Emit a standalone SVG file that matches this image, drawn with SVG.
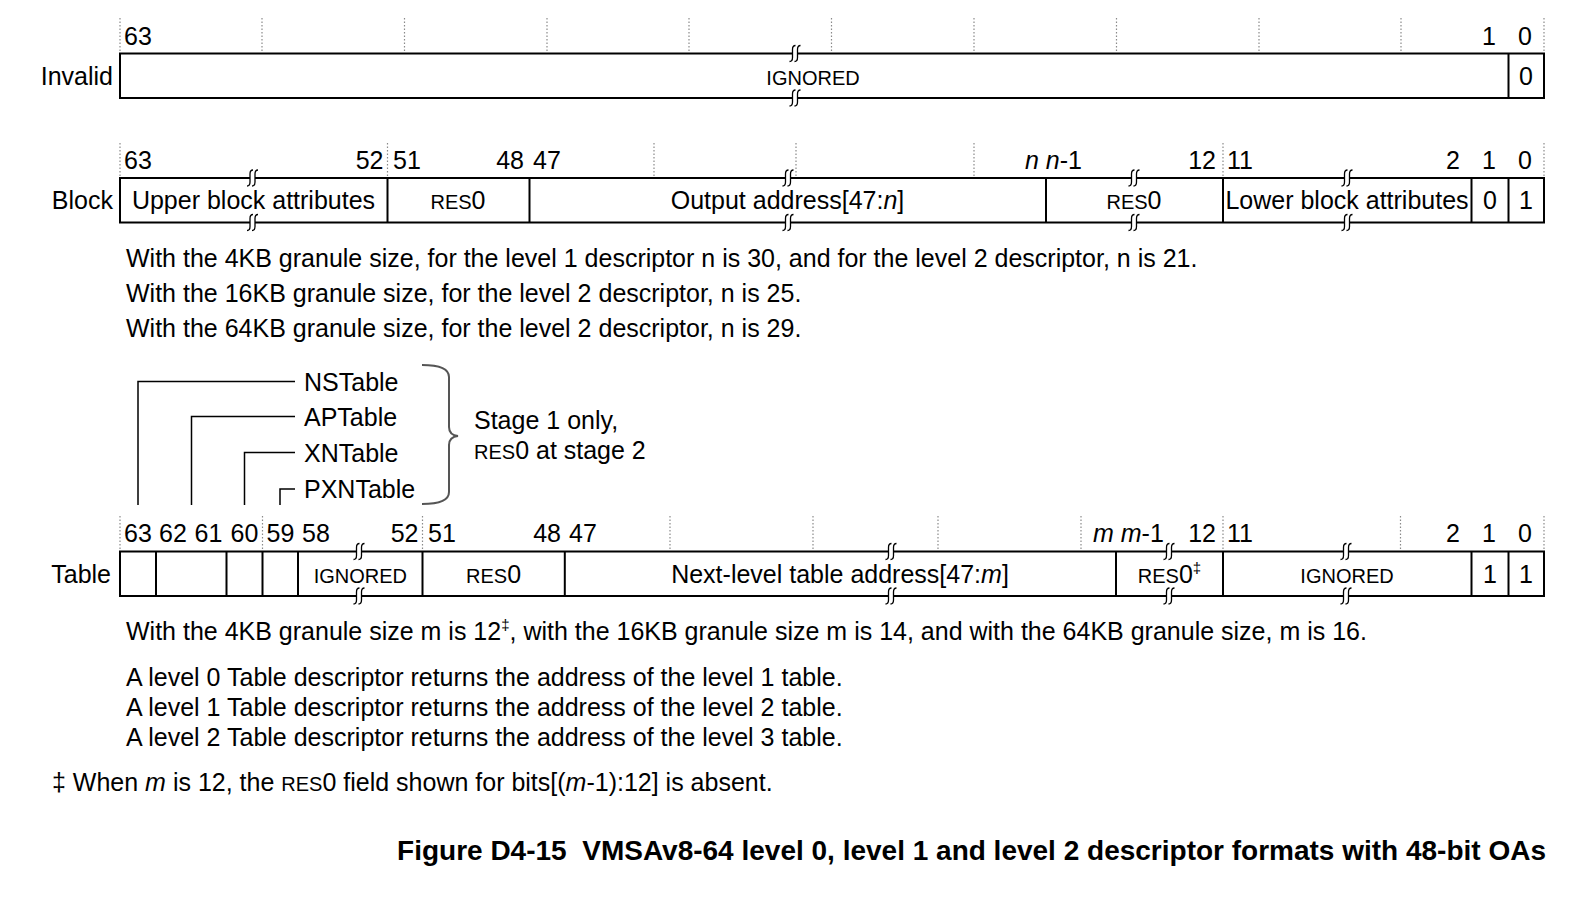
<svg xmlns="http://www.w3.org/2000/svg" width="1578" height="904" viewBox="0 0 1578 904">
<defs>
<style>
text{font-family:"Liberation Sans",Arial,Helvetica,sans-serif;font-size:25px;fill:#000}
.sc{font-size:20px}
.it{font-style:italic}
.mid{text-anchor:middle}
.end{text-anchor:end}
.box{fill:#fff;stroke:#000;stroke-width:2}
.dv{stroke:#000;stroke-width:2}
.tick{stroke:#8a8a8a;stroke-width:1.2;stroke-dasharray:1.5 2}
.conn{stroke:#000;stroke-width:1.5;fill:none}
.brace{stroke:#555;stroke-width:2;fill:none}
.title{font-weight:bold;font-size:28px}
</style>
<g id="brk">
<rect x="-2.5" y="-2.5" width="5" height="5" fill="#fff"/>
<path d="M0.5,-8 Q-2.5,-8 -2.5,-4 L-2.5,4 Q-2.5,8 -5.5,8 M5.5,-8 Q2.5,-8 2.5,-4 L2.5,4 Q2.5,8 -0.5,8" fill="none" stroke="#000" stroke-width="1.3"/>
</g>
</defs>
<rect width="1578" height="904" fill="#fff"/>

<g id="invalid">
<g class="tick">
<line x1="120" y1="18" x2="120" y2="53"/><line x1="262" y1="18" x2="262" y2="53"/><line x1="404.5" y1="18" x2="404.5" y2="53"/><line x1="547" y1="18" x2="547" y2="53"/><line x1="689" y1="18" x2="689" y2="53"/><line x1="831.5" y1="18" x2="831.5" y2="53"/><line x1="974" y1="18" x2="974" y2="53"/><line x1="1116.5" y1="18" x2="1116.5" y2="53"/><line x1="1259" y1="18" x2="1259" y2="53"/><line x1="1401" y1="18" x2="1401" y2="53"/><line x1="1544" y1="18" x2="1544" y2="53"/>
</g>
<text x="124" y="44.5">63</text>
<text x="1489" y="44.5" class="mid">1</text>
<text x="1525" y="44.5" class="mid">0</text>
<text x="113" y="84.5" class="end">Invalid</text>
<rect class="box" x="120" y="53.5" width="1424" height="44.5"/>
<line class="dv" x1="1508.5" y1="53.5" x2="1508.5" y2="98"/>
<text x="813" y="84.5" class="mid sc">IGNORED</text>
<text x="1526" y="84.5" class="mid">0</text>
<use href="#brk" x="795" y="53.5"/><use href="#brk" x="795" y="98"/>
</g>

<g id="block">
<g class="tick">
<line x1="120" y1="143" x2="120" y2="178"/><line x1="387.5" y1="143" x2="387.5" y2="178"/><line x1="654" y1="143" x2="654" y2="178"/><line x1="796" y1="143" x2="796" y2="178"/><line x1="974" y1="143" x2="974" y2="178"/><line x1="1223" y1="143" x2="1223" y2="178"/><line x1="1544" y1="143" x2="1544" y2="178"/>
</g>
<text x="124" y="168.5">63</text>
<text x="383.5" y="168.5" class="end">52</text>
<text x="393" y="168.5">51</text>
<text x="524" y="168.5" class="end">48</text>
<text x="533" y="168.5">47</text>
<text x="1082" y="168.5" class="end"><tspan class="it">n</tspan> <tspan class="it">n</tspan>-1</text>
<text x="1216" y="168.5" class="end">12</text>
<text x="1227" y="168.5">11</text>
<text x="1460" y="168.5" class="end">2</text>
<text x="1489" y="168.5" class="mid">1</text>
<text x="1525" y="168.5" class="mid">0</text>
<text x="113" y="209" class="end">Block</text>
<rect class="box" x="120" y="178" width="1424" height="44.5"/>
<g class="dv">
<line x1="387.5" y1="178" x2="387.5" y2="222.5"/><line x1="529.5" y1="178" x2="529.5" y2="222.5"/><line x1="1046" y1="178" x2="1046" y2="222.5"/><line x1="1223" y1="178" x2="1223" y2="222.5"/><line x1="1471.5" y1="178" x2="1471.5" y2="222.5"/><line x1="1508.5" y1="178" x2="1508.5" y2="222.5"/>
</g>
<text x="253.5" y="209" class="mid">Upper block attributes</text>
<text x="458" y="209" class="mid"><tspan class="sc">RES</tspan>0</text>
<text x="787.5" y="209" class="mid">Output address[47:<tspan class="it">n</tspan>]</text>
<text x="1134" y="209" class="mid"><tspan class="sc">RES</tspan>0</text>
<text x="1347" y="209" class="mid">Lower block attributes</text>
<text x="1490" y="209" class="mid">0</text>
<text x="1526" y="209" class="mid">1</text>
<use href="#brk" x="252.5" y="178"/><use href="#brk" x="252.5" y="222.5"/>
<use href="#brk" x="788" y="178"/><use href="#brk" x="788" y="222.5"/>
<use href="#brk" x="1134" y="178"/><use href="#brk" x="1134" y="222.5"/>
<use href="#brk" x="1347" y="178"/><use href="#brk" x="1347" y="222.5"/>
</g>

<g id="block-notes">
<text x="126" y="266.5">With the 4KB granule size, for the level 1 descriptor n is 30, and for the level 2 descriptor, n is 21.</text>
<text x="126" y="301.5">With the 16KB granule size, for the level 2 descriptor, n is 25.</text>
<text x="126" y="336.5">With the 64KB granule size, for the level 2 descriptor, n is 29.</text>
</g>

<g id="connectors">
<polyline class="conn" points="138,505 138,381.5 295,381.5"/>
<polyline class="conn" points="191.5,505 191.5,416.5 295,416.5"/>
<polyline class="conn" points="244.5,505 244.5,452.5 295,452.5"/>
<polyline class="conn" points="280,505 280,489 295,489"/>
</g>

<g id="table-flags">
<text x="304" y="390.5">NSTable</text>
<text x="304" y="425.5">APTable</text>
<text x="304" y="461.5">XNTable</text>
<text x="304" y="497.5">PXNTable</text>
<path class="brace" d="M422,365 Q449,365 449,377 L449,427 Q449,435 458,436 Q449,437 449,445 L449,492 Q449,504 422,504"/>
<text x="474" y="428.5">Stage 1 only,</text>
<text x="474" y="458.5"><tspan class="sc">RES</tspan>0 at stage 2</text>
</g>

<g id="table">
<g class="tick">
<line x1="120" y1="516" x2="120" y2="551"/><line x1="262.5" y1="516" x2="262.5" y2="551"/><line x1="422.5" y1="516" x2="422.5" y2="551"/><line x1="670" y1="516" x2="670" y2="551"/><line x1="813" y1="516" x2="813" y2="551"/><line x1="938" y1="516" x2="938" y2="551"/><line x1="1081" y1="516" x2="1081" y2="551"/><line x1="1223" y1="516" x2="1223" y2="551"/><line x1="1400.5" y1="516" x2="1400.5" y2="551"/><line x1="1544" y1="516" x2="1544" y2="551"/>
</g>
<text x="124" y="541.5">63</text>
<text x="159" y="541.5">62</text>
<text x="194.5" y="541.5">61</text>
<text x="230.5" y="541.5">60</text>
<text x="266.5" y="541.5">59</text>
<text x="302" y="541.5">58</text>
<text x="418.5" y="541.5" class="end">52</text>
<text x="428" y="541.5">51</text>
<text x="561" y="541.5" class="end">48</text>
<text x="569" y="541.5">47</text>
<text x="1093" y="541.5"><tspan class="it">m</tspan> <tspan class="it">m</tspan>-1</text>
<text x="1216" y="541.5" class="end">12</text>
<text x="1227" y="541.5">11</text>
<text x="1460" y="541.5" class="end">2</text>
<text x="1489" y="541.5" class="mid">1</text>
<text x="1525" y="541.5" class="mid">0</text>
<text x="111" y="582.5" class="end">Table</text>
<rect class="box" x="120" y="551.5" width="1424" height="44.5"/>
<g class="dv">
<line x1="156" y1="551.5" x2="156" y2="596"/><line x1="226.5" y1="551.5" x2="226.5" y2="596"/><line x1="262.5" y1="551.5" x2="262.5" y2="596"/><line x1="298" y1="551.5" x2="298" y2="596"/><line x1="422.5" y1="551.5" x2="422.5" y2="596"/><line x1="564.8" y1="551.5" x2="564.8" y2="596"/><line x1="1116" y1="551.5" x2="1116" y2="596"/><line x1="1223" y1="551.5" x2="1223" y2="596"/><line x1="1471.5" y1="551.5" x2="1471.5" y2="596"/><line x1="1508.5" y1="551.5" x2="1508.5" y2="596"/>
</g>
<text x="360.3" y="582.5" class="mid sc">IGNORED</text>
<text x="493.6" y="582.5" class="mid"><tspan class="sc">RES</tspan>0</text>
<text x="840" y="582.5" class="mid">Next-level table address[47:<tspan class="it">m</tspan>]</text>
<text x="1169.5" y="582.5" class="mid"><tspan class="sc">RES</tspan>0<tspan font-size="15" dy="-10">‡</tspan></text>
<text x="1347" y="582.5" class="mid sc">IGNORED</text>
<text x="1490" y="582.5" class="mid">1</text>
<text x="1526" y="582.5" class="mid">1</text>
<use href="#brk" x="359" y="551.5"/><use href="#brk" x="359" y="596"/>
<use href="#brk" x="891" y="551.5"/><use href="#brk" x="891" y="596"/>
<use href="#brk" x="1169" y="551.5"/><use href="#brk" x="1169" y="596"/>
<use href="#brk" x="1346" y="551.5"/><use href="#brk" x="1346" y="596"/>
</g>

<g id="table-notes">
<text x="126" y="640">With the 4KB granule size m is 12<tspan font-size="15" dy="-10">‡</tspan><tspan dy="10">, with the 16KB granule size m is 14, and with the 64KB granule size, m is 16.</tspan></text>
<text x="126" y="685.5">A level 0 Table descriptor returns the address of the level 1 table.</text>
<text x="126" y="715.5">A level 1 Table descriptor returns the address of the level 2 table.</text>
<text x="126" y="745.5">A level 2 Table descriptor returns the address of the level 3 table.</text>
<text x="52" y="791">‡ When <tspan class="it">m</tspan> is 12, the <tspan class="sc">RES</tspan>0 field shown for bits[(<tspan class="it">m</tspan>-1):12] is absent.</text>
</g>

<g id="caption">
<text x="1546" y="860" class="end title" xml:space="preserve">Figure D4-15  VMSAv8-64 level 0, level 1 and level 2 descriptor formats with 48-bit OAs</text>
</g>
</svg>
